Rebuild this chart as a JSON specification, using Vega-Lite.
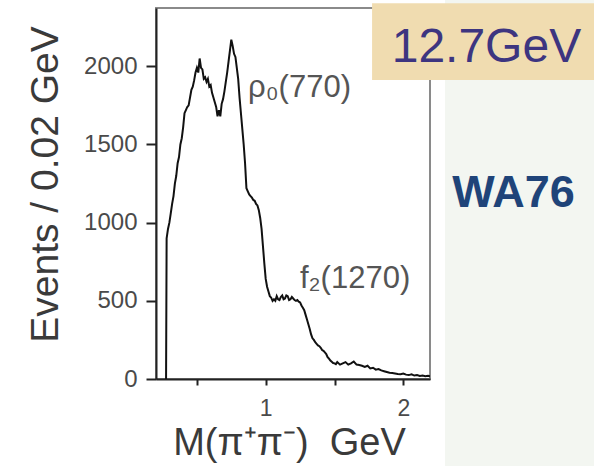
{
  "$schema": "https://vega.github.io/schema/vega-lite/v6.json",
  "width": 274,
  "height": 371,
  "autosize": {"type": "none"},
  "padding": {"left": 156, "top": 8, "right": 164, "bottom": 87},
  "background": "#ffffff",
  "config": {
    "view": {"stroke": "#8a8a8a", "strokeWidth": 2},
    "font": "Liberation Sans",
    "axis": {"grid": false, "domainColor": "#222222", "domainWidth": 2, "tickColor": "#222222", "tickWidth": 2, "labelColor": "#4a4a4a", "labelFont": "Liberation Sans", "titleFont": "Liberation Sans", "titleColor": "#3a3a3a", "titleFontWeight": "normal"}
  },
  "datasets": {
    "hist": [
      {"m": 0.276, "n": 0}, {"m": 0.28, "n": 900}, {"m": 0.29, "n": 960}, {"m": 0.30, "n": 1000}, {"m": 0.31, "n": 1060}, {"m": 0.32, "n": 1120}, {"m": 0.33, "n": 1170}, {"m": 0.34, "n": 1250},
      {"m": 0.35, "n": 1300}, {"m": 0.36, "n": 1380}, {"m": 0.37, "n": 1420}, {"m": 0.38, "n": 1500}, {"m": 0.39, "n": 1540}, {"m": 0.40, "n": 1610}, {"m": 0.41, "n": 1700}, {"m": 0.42, "n": 1720}, {"m": 0.43, "n": 1740}, {"m": 0.44, "n": 1750},
      {"m": 0.45, "n": 1800}, {"m": 0.46, "n": 1850}, {"m": 0.47, "n": 1870}, {"m": 0.48, "n": 1910}, {"m": 0.49, "n": 1960}, {"m": 0.50, "n": 1990}, {"m": 0.51, "n": 1960}, {"m": 0.52, "n": 2050}, {"m": 0.53, "n": 1990}, {"m": 0.54, "n": 1980},
      {"m": 0.55, "n": 1920}, {"m": 0.56, "n": 1930}, {"m": 0.57, "n": 1900}, {"m": 0.58, "n": 1920}, {"m": 0.59, "n": 1870}, {"m": 0.60, "n": 1880}, {"m": 0.61, "n": 1830}, {"m": 0.62, "n": 1800}, {"m": 0.63, "n": 1770}, {"m": 0.64, "n": 1740},
      {"m": 0.65, "n": 1680}, {"m": 0.66, "n": 1720}, {"m": 0.67, "n": 1680}, {"m": 0.68, "n": 1760}, {"m": 0.69, "n": 1790}, {"m": 0.70, "n": 1840}, {"m": 0.71, "n": 1900}, {"m": 0.72, "n": 1960}, {"m": 0.73, "n": 2030}, {"m": 0.74, "n": 2100},
      {"m": 0.75, "n": 2170}, {"m": 0.76, "n": 2130}, {"m": 0.77, "n": 2080}, {"m": 0.78, "n": 2060}, {"m": 0.79, "n": 1990}, {"m": 0.80, "n": 1920}, {"m": 0.81, "n": 1800}, {"m": 0.82, "n": 1700},
      {"m": 0.83, "n": 1600}, {"m": 0.84, "n": 1500}, {"m": 0.85, "n": 1380}, {"m": 0.86, "n": 1220}, {"m": 0.87, "n": 1200}, {"m": 0.88, "n": 1180}, {"m": 0.89, "n": 1170}, {"m": 0.90, "n": 1160}, {"m": 0.91, "n": 1145}, {"m": 0.92, "n": 1140},
      {"m": 0.93, "n": 1120}, {"m": 0.94, "n": 1110}, {"m": 0.95, "n": 1080}, {"m": 0.96, "n": 1030}, {"m": 0.97, "n": 960}, {"m": 0.98, "n": 850}, {"m": 0.99, "n": 740}, {"m": 1.00, "n": 640}, {"m": 1.01, "n": 590}, {"m": 1.02, "n": 560},
      {"m": 1.03, "n": 530}, {"m": 1.04, "n": 520}, {"m": 1.05, "n": 500}, {"m": 1.06, "n": 510}, {"m": 1.07, "n": 500}, {"m": 1.08, "n": 530}, {"m": 1.09, "n": 510}, {"m": 1.10, "n": 505}, {"m": 1.11, "n": 525}, {"m": 1.12, "n": 535},
      {"m": 1.13, "n": 510}, {"m": 1.14, "n": 515}, {"m": 1.15, "n": 535}, {"m": 1.16, "n": 530}, {"m": 1.17, "n": 505}, {"m": 1.18, "n": 510}, {"m": 1.19, "n": 525}, {"m": 1.20, "n": 515}, {"m": 1.21, "n": 505}, {"m": 1.22, "n": 500},
      {"m": 1.23, "n": 505}, {"m": 1.24, "n": 495}, {"m": 1.25, "n": 490}, {"m": 1.26, "n": 470}, {"m": 1.27, "n": 455}, {"m": 1.28, "n": 440}, {"m": 1.29, "n": 410}, {"m": 1.30, "n": 380}, {"m": 1.31, "n": 350}, {"m": 1.32, "n": 320},
      {"m": 1.33, "n": 285}, {"m": 1.34, "n": 260}, {"m": 1.35, "n": 250}, {"m": 1.36, "n": 235}, {"m": 1.37, "n": 225}, {"m": 1.38, "n": 215}, {"m": 1.39, "n": 210}, {"m": 1.40, "n": 200}, {"m": 1.41, "n": 185}, {"m": 1.42, "n": 180},
      {"m": 1.43, "n": 170}, {"m": 1.44, "n": 160}, {"m": 1.45, "n": 140}, {"m": 1.46, "n": 130}, {"m": 1.47, "n": 118}, {"m": 1.48, "n": 110}, {"m": 1.49, "n": 102}, {"m": 1.50, "n": 100}, {"m": 1.51, "n": 95}, {"m": 1.52, "n": 108},
      {"m": 1.54, "n": 92}, {"m": 1.56, "n": 100}, {"m": 1.58, "n": 108}, {"m": 1.60, "n": 92}, {"m": 1.62, "n": 100},
      {"m": 1.64, "n": 112}, {"m": 1.66, "n": 92}, {"m": 1.68, "n": 90}, {"m": 1.70, "n": 85}, {"m": 1.72, "n": 78},
      {"m": 1.74, "n": 85}, {"m": 1.76, "n": 68}, {"m": 1.78, "n": 72}, {"m": 1.80, "n": 60}, {"m": 1.82, "n": 64},
      {"m": 1.84, "n": 55}, {"m": 1.86, "n": 50}, {"m": 1.88, "n": 45}, {"m": 1.90, "n": 40}, {"m": 1.92, "n": 38},
      {"m": 1.94, "n": 35}, {"m": 1.96, "n": 32}, {"m": 1.98, "n": 30}, {"m": 2.00, "n": 35}, {"m": 2.02, "n": 28},
      {"m": 2.04, "n": 25}, {"m": 2.06, "n": 30}, {"m": 2.08, "n": 22}, {"m": 2.10, "n": 25}, {"m": 2.12, "n": 20},
      {"m": 2.14, "n": 22}, {"m": 2.16, "n": 18}, {"m": 2.18, "n": 20}, {"m": 2.194, "n": 18}
    ],
    "notes": [
      {"m": 0.872, "n": 1803, "label": "ρ₀(770)"},
      {"m": 1.249, "n": 582, "label": "f₂(1270)"}
    ]
  },
  "layer": [
    {
      "data": {"values": [{}]},
      "mark": {"type": "rect", "color": "#f3f6f1", "clip": false},
      "encoding": {
        "x": {"datum": 2.303, "type": "quantitative", "scale": {"domain": [0.2028, 2.194], "nice": false, "zero": false}},
        "x2": {"datum": 3.45},
        "y": {"datum": 2500, "type": "quantitative", "scale": {"domain": [0, 2373], "nice": false}},
        "y2": {"datum": -600}
      }
    },
    {
      "data": {"name": "hist"},
      "mark": {"type": "line", "color": "#111111", "strokeWidth": 2, "clip": true},
      "encoding": {
        "x": {
          "field": "m", "type": "quantitative",
          "scale": {"domain": [0.2028, 2.194], "nice": false, "zero": false},
          "axis": {
            "values": [0.5, 1, 1.5, 2],
            "labelExpr": "datum.value % 1 === 0 ? format(datum.value, 'd') : ''",
            "tickSize": 6, "labelPadding": 12, "labelFontSize": 23,
            "encode": {"ticks": {"update": {"y2": {"value": -6}}}},
            "title": "M(π⁺π⁻)\u00a0\u00a0GeV", "titleFontSize": 38, "titlePadding": 4, "titleX": 133
          }
        },
        "y": {
          "field": "n", "type": "quantitative",
          "scale": {"domain": [0, 2373], "nice": false},
          "axis": {
            "values": [0, 500, 1000, 1500, 2000],
            "format": "d",
            "tickSize": 10, "labelPadding": 9, "labelFontSize": 24,
            "encode": {"ticks": {"update": {"x2": {"value": 10}}}},
            "title": "Events / 0.02 GeV", "titleFontSize": 39, "titlePadding": 18, "titleY": 176
          }
        }
      }
    },
    {
      "data": {"name": "notes"},
      "mark": {"type": "text", "align": "left", "baseline": "alphabetic", "fontSize": 31, "color": "#555555", "font": "Liberation Sans", "clip": false},
      "encoding": {
        "x": {"field": "m", "type": "quantitative"},
        "y": {"field": "n", "type": "quantitative"},
        "text": {"field": "label"}
      }
    },
    {
      "data": {"values": [{}]},
      "mark": {"type": "rect", "color": "#f0dcb0", "clip": false},
      "encoding": {
        "x": {"datum": 1.773, "type": "quantitative"},
        "x2": {"datum": 3.45},
        "y": {"datum": 2404, "type": "quantitative"},
        "y2": {"datum": 1912}
      }
    },
    {
      "data": {"values": [{"t": "12.7GeV"}]},
      "mark": {"type": "text", "align": "center", "baseline": "alphabetic", "fontSize": 48, "color": "#3d3580", "font": "Liberation Sans", "clip": false},
      "encoding": {
        "x": {"datum": 2.604, "type": "quantitative"},
        "y": {"datum": 2027, "type": "quantitative"},
        "text": {"field": "t"}
      }
    },
    {
      "data": {"values": [{"t": "WA76"}]},
      "mark": {"type": "text", "align": "center", "baseline": "alphabetic", "fontSize": 45, "fontWeight": "bold", "color": "#1f4479", "font": "Liberation Sans", "clip": false},
      "encoding": {
        "x": {"datum": 2.801, "type": "quantitative"},
        "y": {"datum": 1100, "type": "quantitative"},
        "text": {"field": "t"}
      }
    }
  ]
}
